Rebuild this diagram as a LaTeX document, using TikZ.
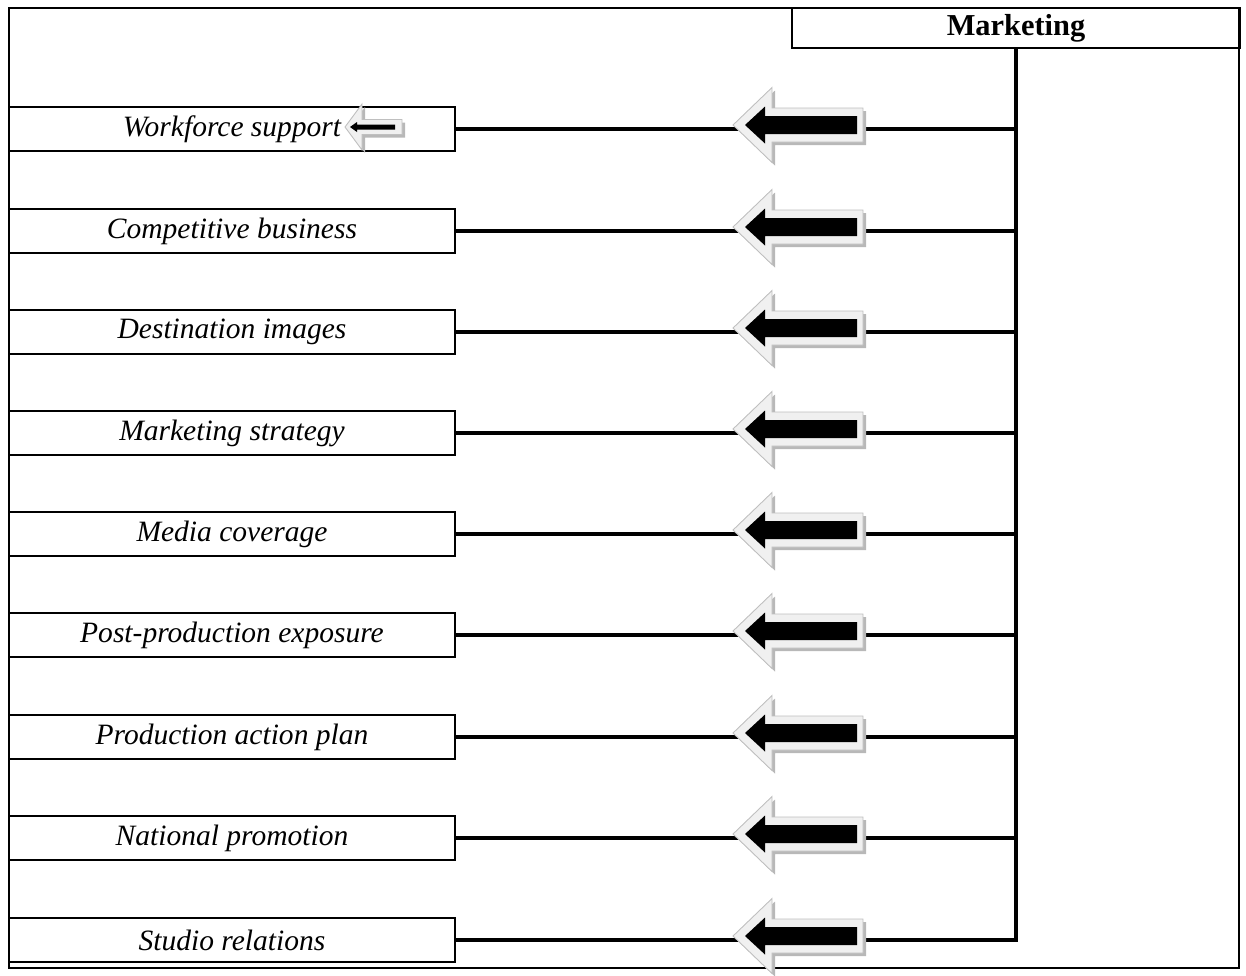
\documentclass[tikz,border=0pt]{standalone}
\usepackage{fontspec}
\setmainfont{Liberation Serif}
\begin{document}
\begin{tikzpicture}[x=0.02cm,y=-0.02cm]
\tikzset{
  frameline/.style={line width=1.2pt},
  item/.style={draw, line width=1.1pt, rectangle, inner sep=0pt,
    minimum width=8.92cm, minimum height=0.88cm,
    font=\fontsize{16.8}{19}\selectfont\itshape},
  headbox/.style={draw, line width=1.1pt, rectangle, inner sep=0pt,
    minimum width=8.96cm, minimum height=0.80cm,
    font=\fontsize{17.3}{19}\selectfont\bfseries},
  link/.style={line width=2.4pt},
  spine/.style={line width=2.8pt, line join=miter},
  % large hollow block arrow with a black arrow inside, tip at the origin
  blockarrow/.pic={
    \fill[black!28] ([shift={(3,3)}]0,0) -- ++(39,-37.5) -- ++(0,20.5) -- ++(91,0)
      -- ++(0,34) -- ++(-91,0) -- ++(0,20.5) -- cycle;
    \filldraw[fill=black!6, draw=black!25, line width=0.5pt]
      (0,0) -- (39,-37.5) -- (39,-17) -- (130,-17) -- (130,17) -- (39,17) -- (39,37.5) -- cycle;
    \fill[black] (12,0) -- (32,-18.5) -- (32,-9) -- (124,-9) -- (124,9) -- (32,9) -- (32,18.5) -- cycle;
  },
  % small version of the same arrow
  smallarrow/.pic={
    \fill[black!28] ([shift={(3,3)}]0,0) -- ++(17,-23) -- ++(0,15.5) -- ++(40,0)
      -- ++(0,15) -- ++(-40,0) -- ++(0,15.5) -- cycle;
    \filldraw[fill=black!6, draw=black!25, line width=0.5pt]
      (0,0) -- (17,-23) -- (17,-7.5) -- (57,-7.5) -- (57,7.5) -- (17,7.5) -- (17,23) -- cycle;
    \fill[black] (5,0) -- (12,-5) -- (12,-2.5) -- (50,-2.5) -- (50,2.5) -- (12,2.5) -- (12,5) -- cycle;
  }
}
\useasboundingbox (0,0) rectangle (1246,975);
\draw[frameline] (9,8) rectangle (1239,968);

\node[headbox] (mk) at (1016,28) {Marketing};

\node[item] (r1) at (232,129) {Workforce support};
\node[item] (r2) at (232,231) {Competitive business};
\node[item] (r3) at (232,332) {Destination images};
\node[item] (r4) at (232,433) {Marketing strategy};
\node[item] (r5) at (232,534) {Media coverage};
\node[item] (r6) at (232,635) {Post-production exposure};
\node[item] (r7) at (232,737) {Production action plan};
\node[item] (r8) at (232,838) {National promotion};
\node[item] (r9) at (232,940) {Studio relations};

% spine from the heading down to the last item
\draw[spine] (mk.south) -- (mk.south |- r9.east) -- (r9.east);
\foreach \r in {r1,r2,r3,r4,r5,r6,r7,r8}
  \draw[link] (\r.east) -- (\r.east -| mk.south);

% arrows on the connectors
\foreach \yy in {129,231,332,433,534,635,737,838,940}
  \pic at (733,\yy-4) {blockarrow};
\pic at (345,127) {smallarrow};
\end{tikzpicture}
\end{document}
